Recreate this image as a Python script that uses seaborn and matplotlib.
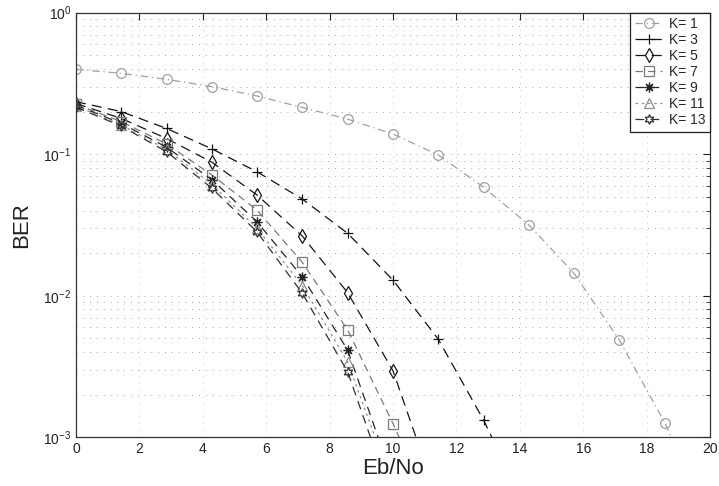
import matplotlib
matplotlib.use("Agg")
import matplotlib.pyplot as plt
import seaborn as sns
from matplotlib.ticker import LogLocator, NullFormatter, MultipleLocator

# Eb/No sample points (dB)
ebno = [0.0, 1.43, 2.86, 4.29, 5.71, 7.14, 8.57, 10.0, 11.43, 12.86,
        14.29, 15.71, 17.14, 18.57, 20.0]

# Bit error rate for each constraint length K
ber_k1 = [0.398, 0.373, 0.338, 0.300, 0.258, 0.214, 0.177, 0.139, 0.0987,
          0.0584, 0.0316, 0.0144, 0.00486, 0.00127, 0.00025]
ber_k3 = [0.235, 0.200, 0.152, 0.109, 0.0752, 0.0482, 0.0276, 0.0129,
          0.00492, 0.00132, 0.00028]
ber_k5 = [0.228, 0.179, 0.129, 0.0877, 0.0515, 0.0264, 0.0105, 0.00295,
          0.00035]
ber_k7 = [0.225, 0.170, 0.118, 0.0713, 0.0403, 0.0172, 0.00573, 0.00125,
          0.00024]
ber_k9 = [0.222, 0.165, 0.112, 0.0660, 0.0333, 0.0136, 0.00413, 0.00050]
ber_k11 = [0.219, 0.161, 0.108, 0.0610, 0.0300, 0.0118, 0.00340, 0.00045]
ber_k13 = [0.215, 0.158, 0.104, 0.0574, 0.0283, 0.0104, 0.00290, 0.00035]

labels = ["K= 1", "K= 3", "K= 5", "K= 7", "K= 9", "K= 11", "K= 13"]
series = [ber_k1, ber_k3, ber_k5, ber_k7, ber_k9, ber_k11, ber_k13]

colors = ["#a0a0a0", "#111111", "#151515", "#7a7a7a", "#262626", "#8c8c8c", "#303030"]
markers = ["o", "+", "d", "s", (8, 2, 0), "^", (6, 1, 0)]
dash_patterns = [(6, 3, 1, 3), (8, 5), (8, 5), (6, 4), (7, 5), (2, 3), (7, 5)]

sns.set_style("white")
plt.rcParams["font.family"] = ["Liberation Sans", "DejaVu Sans"]

fig = plt.figure(figsize=(7.19, 4.86), dpi=100)
ax = fig.add_axes([0.1057, 0.1002, 0.8818, 0.8737])

for lab, ys, col, mk, dp in zip(labels, series, colors, markers, dash_patterns):
    xs = ebno[:len(ys)]
    sns.lineplot(x=xs, y=ys, ax=ax, color=col, marker=mk, markersize=7,
                 markerfacecolor="none", markeredgecolor=col,
                 markeredgewidth=0.9, linewidth=0.9, errorbar=None,
                 label=lab)
    ax.lines[-1].set_dashes(dp)

ax.set_yscale("log")
ax.set_xlim(0, 20)
ax.set_ylim(1e-3, 1)
ax.xaxis.set_major_locator(MultipleLocator(2))
ax.yaxis.set_major_locator(LogLocator(base=10, numticks=10))
ax.yaxis.set_minor_locator(LogLocator(base=10, subs=range(2, 10), numticks=10))
ax.yaxis.set_minor_formatter(NullFormatter())

ax.grid(True, which="both", axis="y", color="#a5a5a5",
        linestyle=(0, (1, 6)), linewidth=0.7)
ax.grid(True, which="major", axis="x", color="#b5b5b5",
        linestyle=(0, (1, 7)), linewidth=0.6)

ax.tick_params(which="both", direction="in", top=True, right=True,
               colors="#222222", labelcolor="#222222")
ax.tick_params(which="major", length=5, width=0.8, labelsize=10)
ax.tick_params(which="minor", length=3, width=0.6)
for sp in ax.spines.values():
    sp.set_color("#333333")
    sp.set_linewidth(0.9)

ax.set_xlabel("Eb/No", fontsize=16, labelpad=1, color="#222222")
ax.set_ylabel("BER", fontsize=16, labelpad=8, color="#222222")

handles = ax.get_lines()[:len(labels)]
leg = ax.legend(handles, labels, loc="upper right", fontsize=10,
                frameon=True, fancybox=False, framealpha=1,
                edgecolor="#222222", borderaxespad=0, borderpad=0.3,
                labelspacing=0.15, handlelength=2.0, handletextpad=0.5)
leg.get_frame().set_linewidth(0.9)

fig.savefig("out.png", dpi=100)
